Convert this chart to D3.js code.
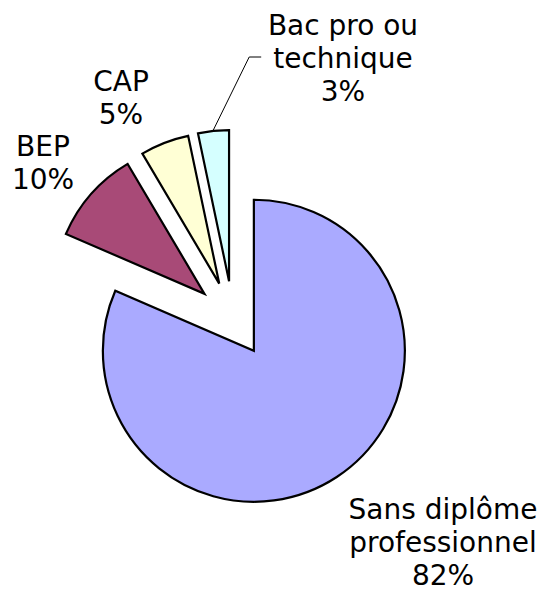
<!DOCTYPE html>
<meta charset="utf-8">
<style>
  body { margin: 0; background: #fff; }
  svg { font-family: "DejaVu Sans", Verdana, sans-serif; }
  .slice { stroke: #000; stroke-width: 2.2px; stroke-linejoin: miter; }
  .lbl { fill: #000; font-size: 28px; text-anchor: middle; }
  .leader { fill: none; stroke: #000; stroke-width: 1px; }
</style>
<body>
<svg id="chart" width="547" height="594"></svg>
<script src="https://d3js.org/d3.v7.min.js"></script>
<script>
// data
var categories = ["Sans diplôme professionnel", "BEP", "CAP", "Bac pro ou technique"]
var values = [81.5, 10.0, 5.2, 3.3]
var labelLines = [["Sans diplôme", "professionnel"], ["BEP"], ["CAP"], ["Bac pro ou", "technique"]]
var colors = ["#AAAAFF", "#A84A77", "#FFFFD5", "#D5FFFF"]

// layout
var cx = 233, cy = 319, radius = 151, explode = 38, lineH = 33
// label block (center x, first baseline) relative to the pie centre
var labelOffset = [[210, 200], [-190, -163], [-112, -228], [110, -284]]

var total = d3.sum(values)
var pie = d3.pie().sort(null).value(function(d) { return d.value })
var arc = d3.arc().innerRadius(0).outerRadius(radius)

var rows = categories.map(function(c, i) {
  return {name: c, value: values[i], lines: labelLines[i], color: colors[i], off: labelOffset[i]}
})

var svg = d3.select("#chart")
var g = svg.append("g").attr("transform", "translate(" + cx + "," + cy + ")")

var arcs = pie(rows)

function shift(d) {
  var a = (d.startAngle + d.endAngle) / 2
  return [Math.sin(a) * explode, -Math.cos(a) * explode]
}

g.selectAll("path.slice")
  .data(arcs)
  .enter().append("path")
  .attr("class", "slice")
  .attr("d", arc)
  .attr("fill", function(d) { return d.data.color })
  .attr("transform", function(d) { var s = shift(d); return "translate(" + s[0] + "," + s[1] + ")" })

// labels
var labels = g.selectAll("text.lbl")
  .data(arcs)
  .enter().append("text")
  .attr("class", "lbl")

labels.each(function(d) {
  var t = d3.select(this)
  var lines = d.data.lines.concat([Math.round(d.data.value / total * 100) + "%"])
  lines.forEach(function(l, k) {
    t.append("tspan")
      .attr("x", d.data.off[0])
      .attr("y", d.data.off[1] + k * lineH)
      .text(l)
  })
})

// leader line for the small slice (Bac pro)
var last = arcs[3]
var s = shift(last)
var mid = (last.startAngle + last.endAngle) / 2
var p0 = [s[0] + Math.sin(mid) * (radius + 1), s[1] - Math.cos(mid) * (radius + 1)]
var tsp = labels.filter(function(d, i) { return i === 3 }).selectAll("tspan").nodes()[1]
var bb = tsp.getBBox()
var yElbow = last.data.off[1] + lineH - 11
var p2 = [bb.x - 12, yElbow]
var p1 = [bb.x - 24, yElbow]
g.append("path")
  .attr("class", "leader")
  .attr("d", d3.line()([p0, p1, p2]))
</script>
</body>
